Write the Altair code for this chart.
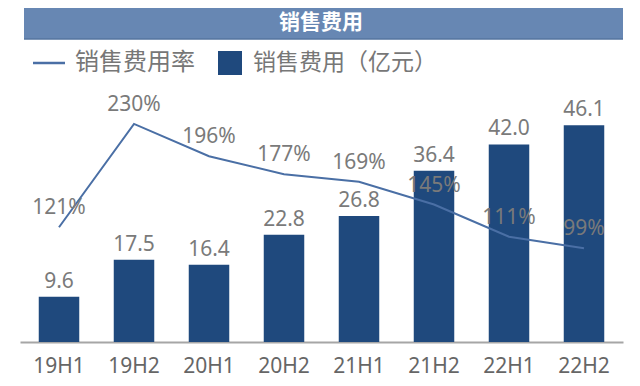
import altair as alt
import pandas as pd

periods = ["19H1", "19H2", "20H1", "20H2", "21H1", "21H2", "22H1", "22H2"]
expense = [9.6, 17.5, 16.4, 22.8, 26.8, 36.4, 42.0, 46.1]
rate = [121, 230, 196, 177, 169, 145, 111, 99]

df = pd.DataFrame({
    "period": periods,
    "expense": expense,
    "rate": rate,
    "expense_lbl": [f"{v:.1f}" for v in expense],
    "rate_lbl": [f"{v}%" for v in rate],
})

W, H = 603, 230
NUM_FONT = "Noto Sans"
CJK_FONT = "Noto Sans CJK SC"

x_enc = alt.X(
    "period:N", sort=periods, title=None,
    scale=alt.Scale(paddingInner=0.46, paddingOuter=0.25),
    axis=alt.Axis(labelAngle=0, ticks=False, domainColor="#a6a6a6", domainWidth=2,
                  labelFont=NUM_FONT, labelFontSize=21, labelColor="#666666",
                  labelPadding=13, grid=False),
)

base = alt.Chart(df)

bar_y = alt.Y("expense:Q", axis=None, scale=alt.Scale(domain=[0, 48.9]))
bars = base.mark_bar(color="#1f497d").encode(x=x_enc, y=bar_y)
bar_lbl = base.mark_text(font=NUM_FONT, fontSize=21, color="#7a7a7a",
                         baseline="alphabetic", dy=-9).encode(
    x=alt.X("period:N", sort=periods), y=bar_y, text="expense_lbl:N")

line_y = alt.Y("rate:Q", axis=None, scale=alt.Scale(domain=[0, 242.6]))
line = base.mark_line(color="#4a6fa5", strokeWidth=2).encode(
    x=alt.X("period:N", sort=periods), y=line_y)
line_lbl = base.mark_text(font=NUM_FONT, fontSize=21, color="#7a7a7a",
                          baseline="alphabetic", dy=-13).encode(
    x=alt.X("period:N", sort=periods), y=line_y, text="rate_lbl:N")

bar_layer = alt.layer(bars, bar_lbl)
line_layer = alt.layer(line, line_lbl)

deco = pd.DataFrame({"k": [0]})
dc = alt.Chart(deco)
banner = dc.mark_rect(color="#6787b3").encode(
    x=alt.value(4), x2=alt.value(603), y=alt.value(-104), y2=alt.value(-73))
banner_edge = dc.mark_rule(color="#55749f", strokeWidth=1.5).encode(
    x=alt.value(4), x2=alt.value(603), y=alt.value(-73))
title = dc.mark_text(text="销售费用", font=CJK_FONT, fontSize=21, fontWeight="bold",
                     color="white", align="center", baseline="middle").encode(
    x=alt.value(301), y=alt.value(-89))
leg_line = dc.mark_rule(color="#4a6fa5", strokeWidth=2.5).encode(
    x=alt.value(13), x2=alt.value(45), y=alt.value(-49))
leg_t1 = dc.mark_text(text="销售费用率", font=CJK_FONT, fontSize=24, color="#777777",
                      align="left", baseline="middle").encode(x=alt.value(55), y=alt.value(-49))
leg_sq = dc.mark_rect(color="#1f497d").encode(
    x=alt.value(198), x2=alt.value(222), y=alt.value(-61), y2=alt.value(-37))
leg_t2 = dc.mark_text(text="销售费用（亿元）", font=CJK_FONT, fontSize=23, color="#777777",
                      align="left", baseline="middle").encode(x=alt.value(233), y=alt.value(-49))

chart = alt.layer(
    bar_layer, line_layer, banner, banner_edge, title, leg_line, leg_t1, leg_sq, leg_t2
).resolve_scale(y="independent").properties(
    width=W, height=H,
    background="white",
    autosize=alt.AutoSizeParams(type="none"),
    padding={"left": 12, "top": 104, "right": 9, "bottom": 36},
).configure_view(strokeWidth=0, stroke="transparent")

chart.save("out.html", embed_options={"renderer": "svg", "actions": False})
